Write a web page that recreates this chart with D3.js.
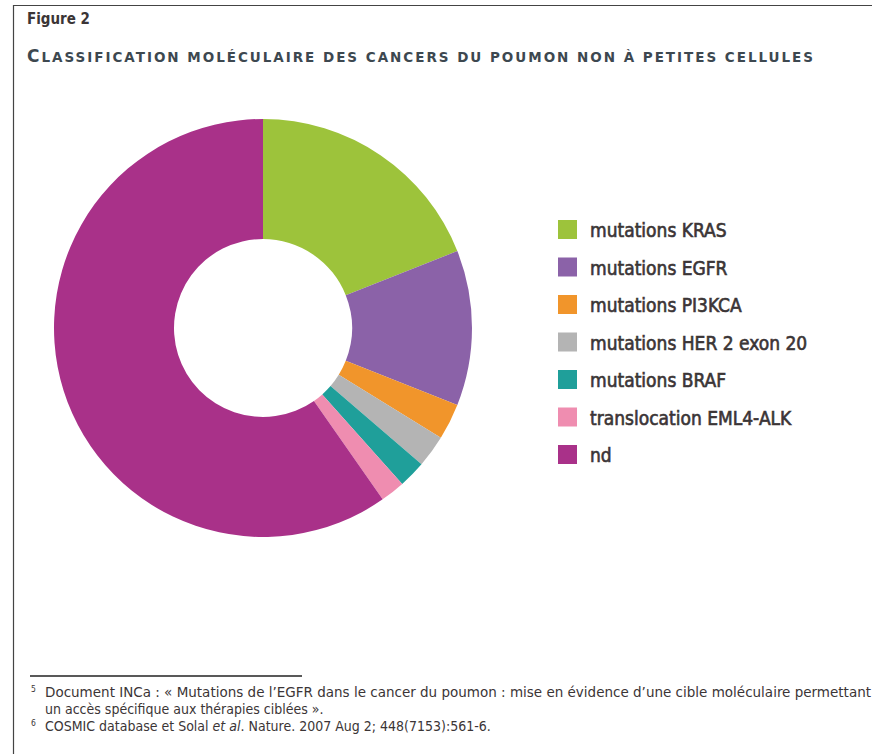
<!DOCTYPE html>
<html>
<head>
<meta charset="utf-8">
<script src="https://cdn.jsdelivr.net/npm/d3@7"></script>
<style>
body{margin:0;background:#fff;}
text{font-family:"DejaVu Sans Condensed","DejaVu Sans",sans-serif;fill:#3b3536;}
</style>
</head>
<body>
<svg id="chart"></svg>
<script>
// data (share of cases, %)
var categories=["mutations KRAS","mutations EGFR","mutations PI3KCA","mutations HER 2 exon 20","mutations BRAF","translocation EML4-ALK","nd"];
var values=[19,12,2.8,2.5,2.1,1.9,59.7];
var colors=["#9dc33b","#8b62a8","#f1952b","#b4b4b4","#1f9f9a","#ef8db0","#a93189"];

var title="Classification moléculaire des cancers du poumon non à petites cellules";
var footnotes=[
  {sup:"5",text:"Document INCa : « Mutations de l’EGFR dans le cancer du poumon : mise en évidence d’une cible moléculaire permettant"},
  {sup:"",text:"un accès spécifique aux thérapies ciblées »."},
  {sup:"6",text:"COSMIC database et Solal et al. Nature. 2007 Aug 2; 448(7153):561-6."}
];

var width=872;
var height=754;

var svg=d3.select("#chart")
.attr("width",width)
.attr("height",height);

// frame
svg.append("path")
.attr("d","M13.5,"+height+" V5.5 H"+width)
.attr("fill","none")
.attr("stroke","#444")
.attr("stroke-width",1.2);

svg.append("text")
.attr("x",27)
.attr("y",24)
.attr("font-size",15)
.attr("font-weight","bold")
.text("Figure 2");

// small caps title done by hand
var t=svg.append("text")
.attr("x",27)
.attr("y",62)
.style("font-family","'DejaVu Sans',sans-serif")
.style("font-weight","bold")
.style("fill","#3d4850");
t.append("tspan")
.style("font-size","17px")
.text(title.charAt(0).toUpperCase());
t.append("tspan")
.style("font-size","13.5px")
.text(title.slice(1).toUpperCase());
// spread the letters so the line ends where the reference does
var tw=t.node().getComputedTextLength();
t.style("letter-spacing",Math.max(0,(788-tw)/title.length)+"px");

var data=categories.map(function(c,i){return {name:c,value:values[i],color:colors[i]};});

var pie=d3.pie()
.sort(null)
.value(function(d){return d.value;});

var arc=d3.arc()
.innerRadius(89)
.outerRadius(209);

var g=svg.append("g")
.attr("transform","translate(263,328)");

g.selectAll("path")
.data(pie(data))
.enter()
.append("path")
.attr("d",arc)
.attr("fill",function(d){return d.data.color;});

// legend
var legend=svg.append("g")
.attr("transform","translate(558,220)");

var rows=legend.selectAll("g")
.data(data)
.enter()
.append("g")
.attr("transform",function(d,i){return "translate(0,"+(i*37.5)+")";});

rows.append("rect")
.attr("width",19)
.attr("height",19)
.attr("fill",function(d){return d.color;});

rows.append("text")
.attr("x",32)
.attr("y",17)
.attr("font-size",19)
.attr("stroke","#3b3536")
.attr("stroke-width",0.6)
.text(function(d){return d.name;});

// footnotes
svg.append("line")
.attr("x1",30)
.attr("x2",302)
.attr("y1",676)
.attr("y2",676)
.attr("stroke","#222")
.attr("stroke-width",1.6);

var fn=svg.selectAll(".fn")
.data(footnotes)
.enter()
.append("g")
.attr("class","fn")
.attr("transform",function(d,i){return "translate(30,"+(697+i*17)+")";});

fn.append("text")
.attr("x",1)
.attr("y",-5)
.attr("font-size",8.5)
.text(function(d){return d.sup;});

fn.append("text")
.attr("x",15)
.attr("y",0)
.attr("font-size",14)
.attr("textLength",function(d,i){return i==0?826:null;})
.attr("lengthAdjust","spacingAndGlyphs")
.html(function(d){
  if(d.text.indexOf("et al.")>=0){
    return "COSMIC database et Solal <tspan font-style=\"italic\">et al</tspan>. Nature. 2007 Aug 2; 448(7153):561-6.";
  }
  return d.text;
});
</script>
</body>
</html>
